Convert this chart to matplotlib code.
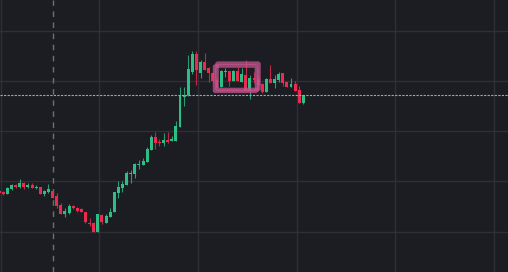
import matplotlib
matplotlib.use("Agg")
import matplotlib.pyplot as plt
from matplotlib.patches import FancyBboxPatch
import numpy as np

# candle index (bar number) and OHLC values
idx = list(range(-1, 74))
opens = [81, 80, 78, 83, 86.7, 85, 88.7, 85, 86.7, 84, 84.7, 77.7, 80, 81, 76,
         67, 58.3, 59, 66, 64.3, 62.7, 59.7, 49.3, 49, 40.3, 57, 49.3, 55, 60.5,
         79.3, 84.3, 87, 98.3, 98, 107.3, 107.3, 110.3, 122, 135, 130.3, 129, 132,
         131, 131, 145.3, 175.5, 177, 200, 218, 199.3, 210, 204, 199.3, 192, 185.3,
         200, 201, 191, 201, 190.5, 197, 181, 194, 193, 188, 180.3, 193, 189, 192,
         199, 190, 185, 188, 182, 169]
highs = [82, 81.3, 85.3, 88, 88, 92.7, 89.7, 89.3, 89.3, 86.7, 84.7, 82, 88, 82.7,
         79.5, 68.7, 63.7, 67.7, 67, 65.3, 63.7, 60.3, 54.3, 49.7, 58.3, 58.3, 58.3,
         63.7, 80.5, 91, 91, 101, 102, 109.3, 112, 114, 125.3, 137.3, 140.3, 133, 139,
         140, 136, 151, 185, 185.3, 217, 221.5, 221, 212, 219, 205.3, 200, 194, 202,
         203.7, 201, 202, 205, 203.7, 212.5, 197, 200, 197, 189, 194, 207, 197, 200.3,
         199, 190, 194, 191, 186, 177]
lows = [78, 76.7, 78, 82, 84, 84, 82.7, 84, 83.7, 83.3, 78, 76.3, 79.3, 74, 64.5,
        58.3, 55, 58.3, 63, 60.3, 59.7, 49, 45.7, 40.3, 40.3, 48.3, 49.3, 55, 60,
        74, 80.3, 87, 89.3, 94.3, 103, 107.3, 110.3, 122, 123, 126.3, 126, 128.7,
        131, 131, 145.3, 166, 176.5, 198, 187, 194, 202, 190.3, 190, 183.7, 185.3,
        195, 186.5, 191, 191, 190.5, 181, 173.5, 189, 181, 179.5, 180.3, 189, 184,
        190.3, 186, 185, 185, 181, 169, 168]
closes = [79, 78, 84, 87, 85.3, 88.7, 85, 87.3, 84, 84.7, 78, 80.7, 83, 74, 66.3,
          58.3, 60.7, 66, 64.3, 61.3, 59.7, 49.7, 48, 40.3, 57.7, 49.7, 56.3, 60,
          80, 85, 88, 99.3, 99.3, 108.3, 108.3, 111, 123, 135.3, 129.3, 129.3, 132,
          130.3, 132.7, 146, 176.7, 176.5, 203, 218, 202, 210, 202, 198.7, 190.7,
          183.7, 201, 201, 191, 201, 191, 198.3, 181.5, 194, 192.3, 187, 180.3, 193,
          189, 193, 198, 189, 185, 188, 181, 169, 176.7]

grid_x = [-0.65, 23.35, 47.35, 71.35, 95.35, 119.35]
grid_y = [40, 90.7, 140.7, 190.7, 240.7]
marker_x = 12.17
# hand-drawn highlight box (bar index / price)
box_a = (52.0, 182.5, 62.2, 208.8)
box_b = (51.4, 180.7, 61.6, 206.0)

BG = "#1c1d22"
GRID = "#2f3036"
UP = "#2ebd85"
DOWN = "#ea2a50"

fig = plt.figure(figsize=(5.08, 2.72), dpi=100)
fig.patch.set_facecolor(BG)
ax = fig.add_axes([0, 0, 1, 1])
ax.set_facecolor(BG)
ax.set_xlim(-0.80, 122.80)
ax.set_ylim(0, 272)
for s in ax.spines.values():
    s.set_visible(False)
ax.set_xticks([])
ax.set_yticks([])

for gx in grid_x:
    ax.axvline(gx, color=GRID, lw=1.0, zorder=0)
for gy in grid_y:
    ax.axhline(gy, color=GRID, lw=1.0, zorder=0)

ax.axvline(marker_x, color="#6c6f77", lw=1.0, dashes=(4, 4), zorder=1)

o = np.array(opens); c = np.array(closes); h = np.array(highs); l = np.array(lows)
x = np.array(idx)
cols = np.where(c >= o, UP, DOWN)
ax.vlines(x, l, h, colors=cols, lw=0.8, alpha=0.8, zorder=2)
bottom = np.minimum(o, c)
height = np.maximum(np.abs(c - o), 1.2)
ax.bar(x, height, bottom=bottom, width=0.72, color=cols, linewidth=0, zorder=3)

ax.axhline(closes[-1], color="#58cfa6", lw=0.8, dashes=(2, 1.2), zorder=4)

for (x0, y0, x1, y1) in (box_a, box_b):
    p = FancyBboxPatch((x0, y0), x1 - x0, y1 - y0,
                       boxstyle="round,pad=0,rounding_size=0.3",
                       fill=False, edgecolor="#c4558f", alpha=0.75,
                       lw=2.6, zorder=5, mutation_aspect=3)
    ax.add_patch(p)

fig.savefig("out.png", dpi=100, facecolor=BG)
